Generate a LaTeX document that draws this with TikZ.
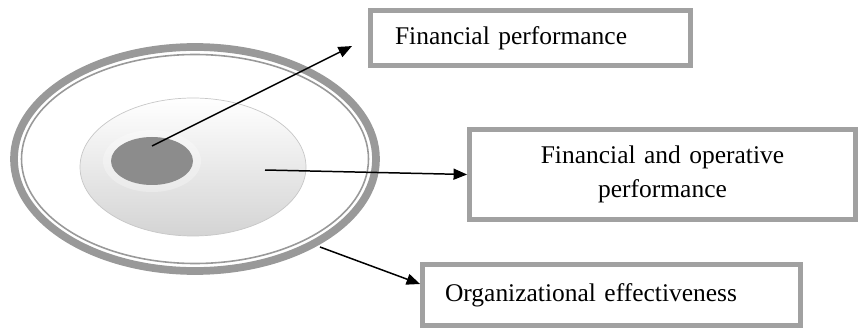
\documentclass[tikz,border=0pt]{standalone}
\usepackage{fontspec}
\setmainfont{Liberation Serif}
\usetikzlibrary{arrows.meta}
\tikzset{
	box/.style={draw=black!37, line width=2.8pt, inner ysep=0pt, font=\fontsize{14.5}{19.5}\selectfont},
	link/.style={-{Triangle[length=0.27cm,width=0.22cm]}, line width=0.85pt},
}

\begin{document}
\begin{tikzpicture}[x=0.02cm, y=-0.02cm]
			%%%%% START %%%%%
			\useasboundingbox (0, 0) rectangle (866, 331);
			
			% rings
			\draw[line width=4.4pt, color=black!40] (195, 159) ellipse (181 and 112);
			\draw[line width=0.9pt, color=black!40] (195, 159) ellipse (173.5 and 104.5);
			
			\shade[top color=white, bottom color=black!17, draw=black!22, line width=0.4pt] (193, 167) ellipse (113 and 69);
			\fill[white, opacity=0.3] (152, 161) ellipse (49 and 31);
			\fill[color=black!45] (152, 161) ellipse (41 and 24);
			
			% boxes
			\node[box, text width=5.42cm, inner xsep=0.49cm, minimum height=1.1cm, align=left] (fin) at (530.5, 38) {Financial performance};
			\node[box, text width=7.2cm, inner xsep=0.26cm, minimum height=1.8cm, align=center] (finop) at (662.5, 174.5) {Financial and operative\\performance};
			\node[box, text width=6.66cm, inner xsep=0.45cm, minimum height=1.22cm, align=left] (org) at (611.5, 295) {Organizational effectiveness};
			
			% arrows
			\coordinate (core) at (152, 146);
			\coordinate (mid) at (265, 170);
			\coordinate (rim) at (320, 247);
			
			\draw[link, shorten >=0.36cm] (core) -- (fin.west);
			\draw[link] (mid) -- (finop.west);
			\draw[link] (rim) -- ([yshift=0.22cm]org.west);
			
			%%%%% END %%%%%
		\end{tikzpicture}
\end{document}
